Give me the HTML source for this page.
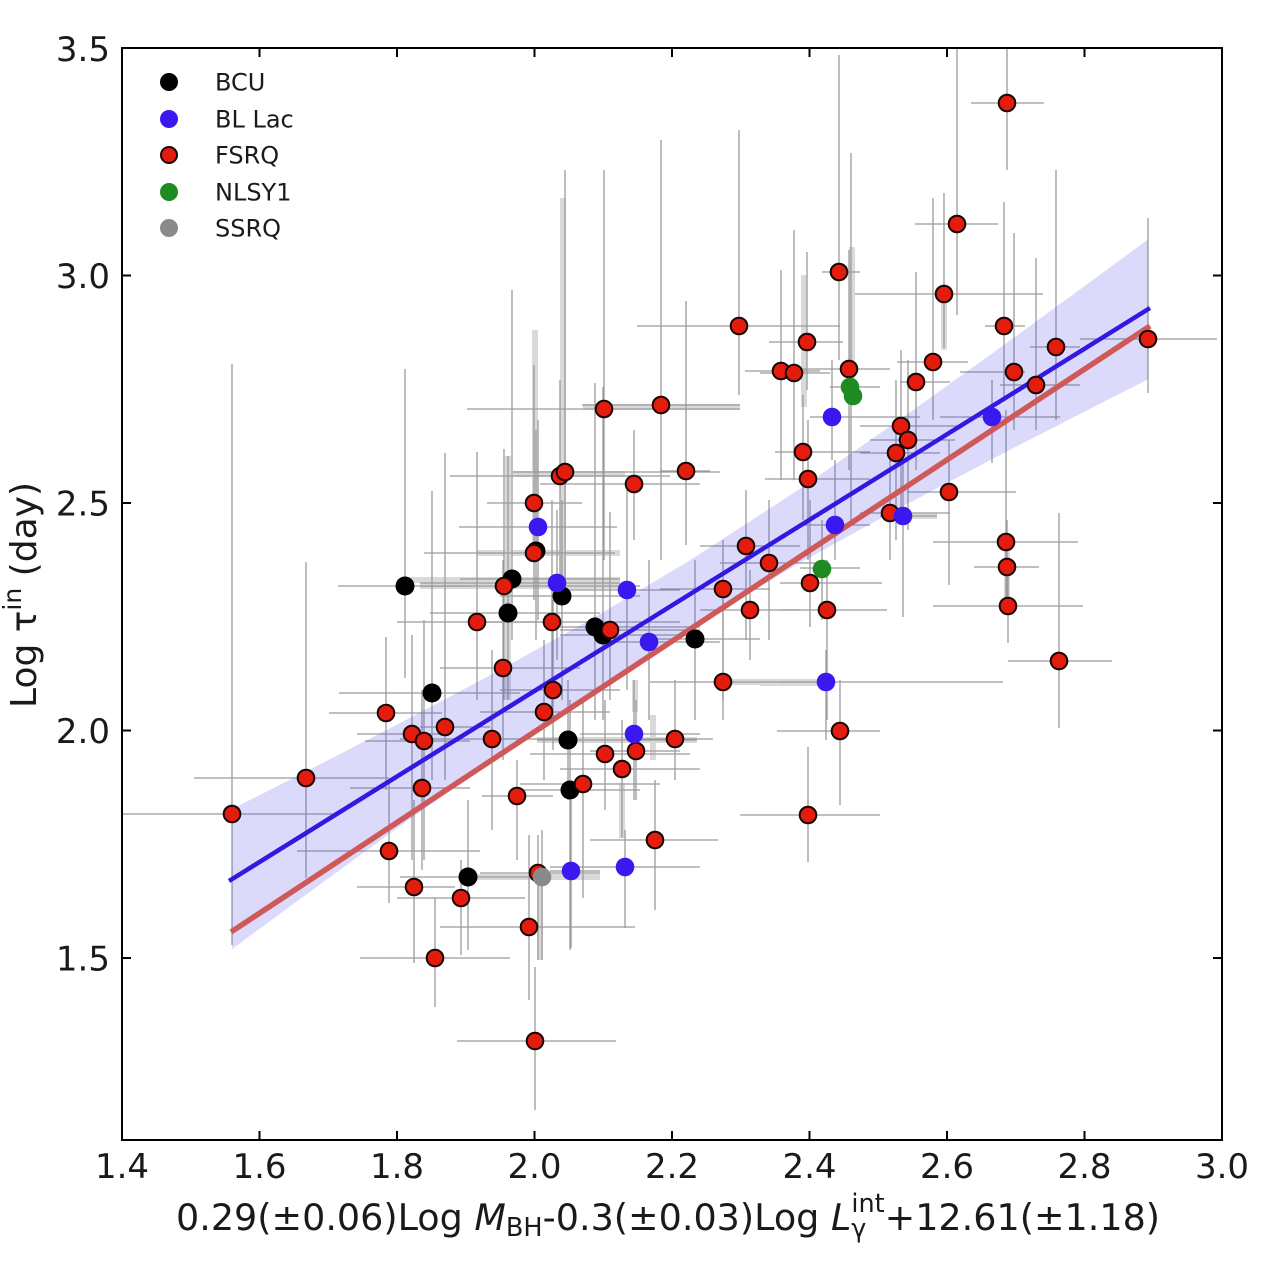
<!DOCTYPE html>
<html>
<head>
<meta charset="utf-8">
<style>
html,body{margin:0;padding:0;background:#fff;}
svg{display:block;}
text{font-family:"DejaVu Sans","Liberation Sans",sans-serif;fill:#1a1a1a;}
</style>
</head>
<body>
<svg width="1280" height="1282" viewBox="0 0 1280 1282" xmlns="http://www.w3.org/2000/svg">
<rect x="0" y="0" width="1280" height="1282" fill="#ffffff"/>
<g stroke="#d9d9d9" stroke-width="6" fill="none">
<line x1="535" y1="330" x2="535" y2="560"/>
<line x1="563" y1="198" x2="563" y2="590"/>
<line x1="508" y1="456" x2="508" y2="700"/>
<line x1="405" y1="580" x2="620" y2="580"/>
<line x1="420" y1="586" x2="620" y2="586"/>
<line x1="583" y1="407" x2="740" y2="407"/>
<line x1="513" y1="474" x2="625" y2="474"/>
<line x1="477" y1="553" x2="620" y2="553"/>
<line x1="468" y1="877" x2="600" y2="877"/>
<line x1="537" y1="740" x2="697" y2="740"/>
<line x1="852" y1="247" x2="852" y2="390"/>
<line x1="944" y1="290" x2="944" y2="350"/>
<line x1="804" y1="275" x2="804" y2="407"/>
<line x1="903" y1="516" x2="937" y2="516"/>
<line x1="1007" y1="542" x2="1007" y2="606"/>
<line x1="622" y1="783" x2="622" y2="838"/>
<line x1="723" y1="682" x2="820" y2="682"/>
<line x1="653" y1="715" x2="653" y2="760"/>
<line x1="635" y1="680" x2="635" y2="712"/>
<line x1="760" y1="683" x2="826" y2="683"/>
<line x1="540" y1="873" x2="540" y2="960"/>
</g>
<g stroke="#9a9a9a" stroke-width="1.3" fill="none">
<line x1="122" y1="814" x2="338" y2="814"/><line x1="232" y1="364" x2="232" y2="945"/>
<line x1="194" y1="778" x2="389" y2="778"/><line x1="306" y1="562" x2="306" y2="878"/>
<line x1="329" y1="713" x2="442" y2="713"/><line x1="386" y1="637" x2="386" y2="790"/>
<line x1="297" y1="851" x2="480" y2="851"/><line x1="389" y1="780" x2="389" y2="903"/>
<line x1="357" y1="734" x2="442" y2="734"/><line x1="412" y1="635" x2="412" y2="860"/>
<line x1="365" y1="741" x2="470" y2="741"/><line x1="424" y1="620" x2="424" y2="860"/>
<line x1="420" y1="727" x2="490" y2="727"/><line x1="445" y1="453" x2="445" y2="780"/>
<line x1="350" y1="788" x2="470" y2="788"/><line x1="422" y1="690" x2="422" y2="870"/>
<line x1="357" y1="887" x2="455" y2="887"/><line x1="414" y1="800" x2="414" y2="963"/>
<line x1="397" y1="898" x2="525" y2="898"/><line x1="461" y1="860" x2="461" y2="955"/>
<line x1="360" y1="958" x2="510" y2="958"/><line x1="435" y1="898" x2="435" y2="1007"/>
<line x1="440" y1="927" x2="635" y2="927"/><line x1="529" y1="835" x2="529" y2="1000"/>
<line x1="457" y1="1041" x2="616" y2="1041"/><line x1="535" y1="967" x2="535" y2="1110"/>
<line x1="440" y1="668" x2="580" y2="668"/><line x1="503" y1="560" x2="503" y2="760"/>
<line x1="397" y1="622" x2="560" y2="622"/><line x1="477" y1="452" x2="477" y2="700"/>
<line x1="400" y1="739" x2="560" y2="739"/><line x1="492" y1="650" x2="492" y2="830"/>
<line x1="482" y1="796" x2="553" y2="796"/><line x1="517" y1="760" x2="517" y2="860"/>
<line x1="420" y1="586" x2="640" y2="586"/><line x1="504" y1="449" x2="504" y2="700"/>
<line x1="487" y1="503" x2="582" y2="503"/><line x1="534" y1="365" x2="534" y2="600"/>
<line x1="424" y1="553" x2="615" y2="553"/><line x1="536" y1="430" x2="536" y2="640"/>
<line x1="450" y1="476" x2="670" y2="476"/><line x1="560" y1="380" x2="560" y2="600"/>
<line x1="513" y1="472" x2="720" y2="472"/><line x1="565" y1="170" x2="565" y2="580"/>
<line x1="467" y1="409" x2="740" y2="409"/><line x1="604" y1="170" x2="604" y2="560"/>
<line x1="582" y1="405" x2="740" y2="405"/><line x1="661" y1="140" x2="661" y2="560"/>
<line x1="540" y1="484" x2="700" y2="484"/><line x1="634" y1="430" x2="634" y2="540"/>
<line x1="660" y1="471" x2="710" y2="471"/><line x1="686" y1="301" x2="686" y2="545"/>
<line x1="480" y1="622" x2="680" y2="622"/><line x1="552" y1="500" x2="552" y2="720"/>
<line x1="560" y1="630" x2="700" y2="630"/><line x1="610" y1="512" x2="610" y2="700"/>
<line x1="500" y1="690" x2="620" y2="690"/><line x1="553" y1="600" x2="553" y2="750"/>
<line x1="480" y1="712" x2="610" y2="712"/><line x1="544" y1="640" x2="544" y2="780"/>
<line x1="640" y1="739" x2="713" y2="739"/><line x1="675" y1="680" x2="675" y2="780"/>
<line x1="530" y1="754" x2="690" y2="754"/><line x1="605" y1="700" x2="605" y2="810"/>
<line x1="590" y1="751" x2="680" y2="751"/><line x1="636" y1="700" x2="636" y2="800"/>
<line x1="560" y1="769" x2="700" y2="769"/><line x1="622" y1="720" x2="622" y2="838"/>
<line x1="520" y1="784" x2="660" y2="784"/><line x1="583" y1="700" x2="583" y2="898"/>
<line x1="590" y1="840" x2="718" y2="840"/><line x1="655" y1="780" x2="655" y2="910"/>
<line x1="480" y1="873" x2="600" y2="873"/><line x1="538" y1="835" x2="538" y2="960"/>
<line x1="650" y1="682" x2="823" y2="682"/><line x1="723" y1="600" x2="723" y2="720"/>
<line x1="777" y1="731" x2="880" y2="731"/><line x1="840" y1="680" x2="840" y2="805"/>
<line x1="740" y1="815" x2="880" y2="815"/><line x1="808" y1="747" x2="808" y2="862"/>
<line x1="700" y1="546" x2="800" y2="546"/><line x1="746" y1="490" x2="746" y2="640"/>
<line x1="720" y1="563" x2="820" y2="563"/><line x1="769" y1="500" x2="769" y2="640"/>
<line x1="660" y1="589" x2="770" y2="589"/><line x1="723" y1="540" x2="723" y2="700"/>
<line x1="700" y1="610" x2="800" y2="610"/><line x1="750" y1="570" x2="750" y2="660"/>
<line x1="637" y1="326" x2="840" y2="326"/><line x1="739" y1="130" x2="739" y2="395"/>
<line x1="745" y1="371" x2="820" y2="371"/><line x1="781" y1="270" x2="781" y2="480"/>
<line x1="760" y1="373" x2="830" y2="373"/><line x1="794" y1="230" x2="794" y2="480"/>
<line x1="769" y1="342" x2="843" y2="342"/><line x1="807" y1="252" x2="807" y2="390"/>
<line x1="775" y1="452" x2="870" y2="452"/><line x1="803" y1="395" x2="803" y2="520"/>
<line x1="765" y1="479" x2="870" y2="479"/><line x1="808" y1="420" x2="808" y2="560"/>
<line x1="822" y1="272" x2="860" y2="272"/><line x1="839" y1="55" x2="839" y2="360"/>
<line x1="790" y1="369" x2="890" y2="369"/><line x1="849" y1="250" x2="849" y2="470"/>
<line x1="915" y1="224" x2="998" y2="224"/><line x1="957" y1="48" x2="957" y2="315"/>
<line x1="855" y1="294" x2="1043" y2="294"/><line x1="944" y1="193" x2="944" y2="348"/>
<line x1="971" y1="103" x2="1044" y2="103"/><line x1="1007" y1="48" x2="1007" y2="170"/>
<line x1="985" y1="326" x2="1025" y2="326"/><line x1="1004" y1="202" x2="1004" y2="400"/>
<line x1="960" y1="372" x2="1025" y2="372"/><line x1="1014" y1="233" x2="1014" y2="430"/>
<line x1="1000" y1="385" x2="1080" y2="385"/><line x1="1036" y1="258" x2="1036" y2="430"/>
<line x1="1030" y1="347" x2="1080" y2="347"/><line x1="1056" y1="170" x2="1056" y2="420"/>
<line x1="1080" y1="339" x2="1217" y2="339"/><line x1="1148" y1="218" x2="1148" y2="393"/>
<line x1="897" y1="362" x2="968" y2="362"/><line x1="933" y1="198" x2="933" y2="420"/>
<line x1="900" y1="382" x2="950" y2="382"/><line x1="916" y1="272" x2="916" y2="470"/>
<line x1="860" y1="426" x2="960" y2="426"/><line x1="901" y1="350" x2="901" y2="520"/>
<line x1="870" y1="440" x2="955" y2="440"/><line x1="908" y1="360" x2="908" y2="530"/>
<line x1="860" y1="453" x2="940" y2="453"/><line x1="896" y1="380" x2="896" y2="540"/>
<line x1="907" y1="492" x2="1016" y2="492"/><line x1="949" y1="440" x2="949" y2="585"/>
<line x1="860" y1="513" x2="950" y2="513"/><line x1="890" y1="450" x2="890" y2="560"/>
<line x1="780" y1="583" x2="882" y2="583"/><line x1="810" y1="500" x2="810" y2="627"/>
<line x1="780" y1="610" x2="887" y2="610"/><line x1="827" y1="560" x2="827" y2="720"/>
<line x1="933" y1="542" x2="1078" y2="542"/><line x1="1006" y1="410" x2="1006" y2="600"/>
<line x1="974" y1="567" x2="1039" y2="567"/><line x1="1007" y1="520" x2="1007" y2="610"/>
<line x1="933" y1="606" x2="1083" y2="606"/><line x1="1008" y1="560" x2="1008" y2="643"/>
<line x1="1008" y1="661" x2="1112" y2="661"/><line x1="1059" y1="513" x2="1059" y2="728"/>
<line x1="338" y1="586" x2="470" y2="586"/><line x1="405" y1="369" x2="405" y2="678"/>
<line x1="339" y1="693" x2="520" y2="693"/><line x1="432" y1="491" x2="432" y2="780"/>
<line x1="460" y1="579" x2="620" y2="579"/><line x1="512" y1="290" x2="512" y2="640"/>
<line x1="430" y1="613" x2="600" y2="613"/><line x1="508" y1="456" x2="508" y2="700"/>
<line x1="500" y1="596" x2="640" y2="596"/><line x1="562" y1="500" x2="562" y2="700"/>
<line x1="560" y1="627" x2="700" y2="627"/><line x1="595" y1="383" x2="595" y2="720"/>
<line x1="560" y1="635" x2="700" y2="635"/><line x1="603" y1="387" x2="603" y2="720"/>
<line x1="537" y1="740" x2="697" y2="740"/><line x1="568" y1="680" x2="568" y2="800"/>
<line x1="520" y1="790" x2="640" y2="790"/><line x1="570" y1="700" x2="570" y2="950"/>
<line x1="400" y1="877" x2="540" y2="877"/><line x1="468" y1="800" x2="468" y2="950"/>
<line x1="640" y1="639" x2="760" y2="639"/><line x1="695" y1="560" x2="695" y2="720"/>
<line x1="459" y1="527" x2="617" y2="527"/><line x1="538" y1="420" x2="538" y2="620"/>
<line x1="420" y1="583" x2="620" y2="583"/><line x1="557" y1="510" x2="557" y2="660"/>
<line x1="560" y1="590" x2="680" y2="590"/><line x1="627" y1="480" x2="627" y2="690"/>
<line x1="600" y1="642" x2="720" y2="642"/><line x1="649" y1="560" x2="649" y2="720"/>
<line x1="580" y1="734" x2="700" y2="734"/><line x1="634" y1="680" x2="634" y2="800"/>
<line x1="550" y1="871" x2="600" y2="871"/><line x1="571" y1="800" x2="571" y2="948"/>
<line x1="550" y1="867" x2="700" y2="867"/><line x1="625" y1="830" x2="625" y2="928"/>
<line x1="810" y1="417" x2="920" y2="417"/><line x1="832" y1="360" x2="832" y2="460"/>
<line x1="800" y1="525" x2="870" y2="525"/><line x1="835" y1="460" x2="835" y2="560"/>
<line x1="780" y1="682" x2="1003" y2="682"/><line x1="826" y1="650" x2="826" y2="740"/>
<line x1="880" y1="516" x2="937" y2="516"/><line x1="903" y1="460" x2="903" y2="617"/>
<line x1="940" y1="417" x2="1060" y2="417"/><line x1="992" y1="380" x2="992" y2="463"/>
<line x1="830" y1="387" x2="880" y2="387"/><line x1="851" y1="153" x2="851" y2="520"/>
<line x1="800" y1="568" x2="860" y2="568"/><line x1="822" y1="520" x2="822" y2="620"/>
<line x1="542" y1="830" x2="542" y2="960"/>
</g>
<polygon fill="#4a44ea" fill-opacity="0.2" stroke="none" points="232,809.1 300,774.6 400,723.1 500,670.0 600,614.1 690,560.2 800,488.8 900,419.5 1000,347.8 1100,274.7 1148,239.3 1148,379.3 1100,403.7 1000,455.0 900,507.7 800,562.8 690,628.2 600,686.3 500,754.8 400,826.1 300,899.0 232,949.1"/>
<line x1="231" y1="932" x2="1150" y2="326" stroke="#cf5858" stroke-width="5.5"/>
<line x1="229" y1="881" x2="1150" y2="308" stroke="#3318e2" stroke-width="4.5"/>
<g fill="#000000">
<circle cx="405" cy="586" r="9.5"/><circle cx="432" cy="693" r="9.5"/><circle cx="512" cy="579" r="9.5"/>
<circle cx="508" cy="613" r="9.5"/><circle cx="536" cy="551" r="9.5"/><circle cx="562" cy="596" r="9.5"/>
<circle cx="595" cy="627" r="9.5"/><circle cx="603" cy="635" r="9.5"/><circle cx="568" cy="740" r="9.5"/>
<circle cx="570" cy="790" r="9.5"/><circle cx="468" cy="877" r="9.5"/><circle cx="695" cy="639" r="9.5"/>
</g>
<g fill="#e41c0e" stroke="#1a0505" stroke-width="2">
<circle cx="232" cy="814" r="8.3"/><circle cx="306" cy="778" r="8.3"/><circle cx="386" cy="713" r="8.3"/>
<circle cx="389" cy="851" r="8.3"/><circle cx="412" cy="734" r="8.3"/><circle cx="424" cy="741" r="8.3"/>
<circle cx="445" cy="727" r="8.3"/><circle cx="422" cy="788" r="8.3"/><circle cx="414" cy="887" r="8.3"/>
<circle cx="461" cy="898" r="8.3"/><circle cx="435" cy="958" r="8.3"/><circle cx="529" cy="927" r="8.3"/>
<circle cx="535" cy="1041" r="8.3"/><circle cx="503" cy="668" r="8.3"/><circle cx="477" cy="622" r="8.3"/>
<circle cx="492" cy="739" r="8.3"/><circle cx="517" cy="796" r="8.3"/><circle cx="504" cy="586" r="8.3"/>
<circle cx="534" cy="503" r="8.3"/><circle cx="534" cy="553" r="8.3"/><circle cx="560" cy="476" r="8.3"/>
<circle cx="565" cy="472" r="8.3"/><circle cx="604" cy="409" r="8.3"/><circle cx="661" cy="405" r="8.3"/>
<circle cx="634" cy="484" r="8.3"/><circle cx="686" cy="471" r="8.3"/><circle cx="552" cy="622" r="8.3"/>
<circle cx="610" cy="630" r="8.3"/><circle cx="553" cy="690" r="8.3"/><circle cx="544" cy="712" r="8.3"/>
<circle cx="675" cy="739" r="8.3"/><circle cx="605" cy="754" r="8.3"/><circle cx="636" cy="751" r="8.3"/>
<circle cx="622" cy="769" r="8.3"/><circle cx="583" cy="784" r="8.3"/><circle cx="655" cy="840" r="8.3"/>
<circle cx="538" cy="873" r="8.3"/><circle cx="723" cy="682" r="8.3"/><circle cx="840" cy="731" r="8.3"/>
<circle cx="808" cy="815" r="8.3"/><circle cx="746" cy="546" r="8.3"/><circle cx="769" cy="563" r="8.3"/>
<circle cx="723" cy="589" r="8.3"/><circle cx="750" cy="610" r="8.3"/><circle cx="739" cy="326" r="8.3"/>
<circle cx="781" cy="371" r="8.3"/><circle cx="794" cy="373" r="8.3"/><circle cx="807" cy="342" r="8.3"/>
<circle cx="803" cy="452" r="8.3"/><circle cx="808" cy="479" r="8.3"/><circle cx="839" cy="272" r="8.3"/>
<circle cx="849" cy="369" r="8.3"/><circle cx="957" cy="224" r="8.3"/><circle cx="944" cy="294" r="8.3"/>
<circle cx="1007" cy="103" r="8.3"/><circle cx="1004" cy="326" r="8.3"/><circle cx="1014" cy="372" r="8.3"/>
<circle cx="1036" cy="385" r="8.3"/><circle cx="1056" cy="347" r="8.3"/><circle cx="1148" cy="339" r="8.3"/>
<circle cx="933" cy="362" r="8.3"/><circle cx="916" cy="382" r="8.3"/><circle cx="901" cy="426" r="8.3"/>
<circle cx="908" cy="440" r="8.3"/><circle cx="896" cy="453" r="8.3"/><circle cx="949" cy="492" r="8.3"/>
<circle cx="890" cy="513" r="8.3"/><circle cx="810" cy="583" r="8.3"/><circle cx="827" cy="610" r="8.3"/>
<circle cx="1006" cy="542" r="8.3"/><circle cx="1007" cy="567" r="8.3"/><circle cx="1008" cy="606" r="8.3"/>
<circle cx="1059" cy="661" r="8.3"/>
</g>
<g fill="#3a18f0">
<circle cx="538" cy="527" r="9.3"/><circle cx="557" cy="583" r="9.3"/><circle cx="627" cy="590" r="9.3"/>
<circle cx="649" cy="642" r="9.3"/><circle cx="634" cy="734" r="9.3"/><circle cx="571" cy="871" r="9.3"/>
<circle cx="625" cy="867" r="9.3"/><circle cx="832" cy="417" r="9.3"/><circle cx="835" cy="525" r="9.3"/>
<circle cx="826" cy="682" r="9.3"/><circle cx="903" cy="516" r="9.3"/><circle cx="992" cy="417" r="9.3"/>
</g>
<g fill="#1d8a22">
<circle cx="850" cy="387" r="9.3"/><circle cx="853" cy="396" r="9.3"/><circle cx="822" cy="569" r="9.3"/>
</g>
<circle cx="542" cy="877" r="9.3" fill="#8a8a8a"/>
<rect x="122" y="48" width="1100" height="1092" fill="none" stroke="#000" stroke-width="2"/>
<g stroke="#000" stroke-width="2">
<line x1="259.5" y1="1140" x2="259.5" y2="1131"/><line x1="397" y1="1140" x2="397" y2="1131"/>
<line x1="534.5" y1="1140" x2="534.5" y2="1131"/><line x1="672" y1="1140" x2="672" y2="1131"/>
<line x1="809.5" y1="1140" x2="809.5" y2="1131"/><line x1="947" y1="1140" x2="947" y2="1131"/>
<line x1="1084.5" y1="1140" x2="1084.5" y2="1131"/>
<line x1="259.5" y1="48" x2="259.5" y2="57"/><line x1="397" y1="48" x2="397" y2="57"/>
<line x1="534.5" y1="48" x2="534.5" y2="57"/><line x1="672" y1="48" x2="672" y2="57"/>
<line x1="809.5" y1="48" x2="809.5" y2="57"/><line x1="947" y1="48" x2="947" y2="57"/>
<line x1="1084.5" y1="48" x2="1084.5" y2="57"/>
<line x1="122" y1="275.5" x2="131" y2="275.5"/><line x1="122" y1="503" x2="131" y2="503"/>
<line x1="122" y1="730.5" x2="131" y2="730.5"/><line x1="122" y1="958" x2="131" y2="958"/>
<line x1="1222" y1="275.5" x2="1213" y2="275.5"/><line x1="1222" y1="503" x2="1213" y2="503"/>
<line x1="1222" y1="730.5" x2="1213" y2="730.5"/><line x1="1222" y1="958" x2="1213" y2="958"/>
</g>
<g font-size="34" text-anchor="end">
<text x="110" y="61">3.5</text><text x="110" y="288">3.0</text><text x="110" y="515.5">2.5</text>
<text x="110" y="743">2.0</text><text x="110" y="970.5">1.5</text>
</g>
<g font-size="34" text-anchor="middle">
<text x="122" y="1178">1.4</text><text x="259.5" y="1178">1.6</text><text x="397" y="1178">1.8</text>
<text x="534.5" y="1178">2.0</text><text x="672" y="1178">2.2</text><text x="809.5" y="1178">2.4</text>
<text x="947" y="1178">2.6</text><text x="1084.5" y="1178">2.8</text><text x="1222" y="1178">3.0</text>
</g>
<text x="176" y="1230" font-size="36.5">0.29(±0.06)Log <tspan font-style="italic">M</tspan><tspan font-size="25.5" dy="6">BH</tspan><tspan dy="-6">-0.3(±0.03)Log </tspan><tspan font-style="italic">L</tspan><tspan font-size="25.5" dy="7">γ</tspan><tspan font-size="25.5" dx="-15" dy="-25">int</tspan><tspan dy="18">+12.61(±1.18)</tspan></text>
<text transform="translate(36,595) rotate(-90)" text-anchor="middle" font-size="36">Log τ<tspan font-size="25" dy="-15">in</tspan><tspan dy="15"> (day)</tspan></text>
<circle cx="169" cy="82" r="9" fill="#000"/>
<circle cx="169" cy="119" r="9" fill="#3a18f0"/>
<circle cx="169" cy="155" r="8" fill="#e41c0e" stroke="#1a0505" stroke-width="2"/>
<circle cx="169" cy="192" r="9" fill="#1d8a22"/>
<circle cx="169" cy="228" r="9" fill="#8a8a8a"/>
<g font-size="24">
<text x="215" y="90.5">BCU</text><text x="215" y="127.5">BL Lac</text><text x="215" y="163.5">FSRQ</text>
<text x="215" y="200.5">NLSY1</text><text x="215" y="236.5">SSRQ</text>
</g>
</svg>
</body>
</html>
